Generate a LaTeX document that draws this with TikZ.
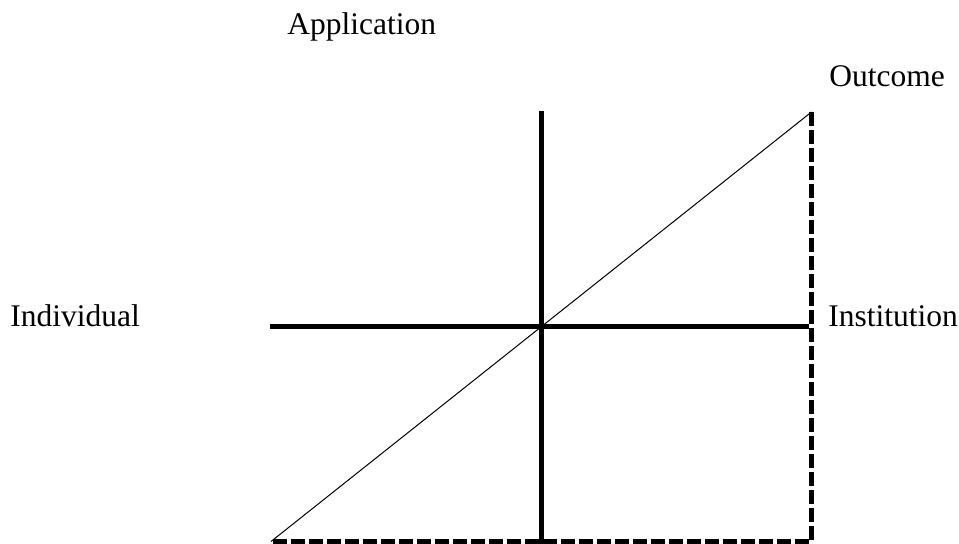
\documentclass[tikz,border=0pt]{standalone}
\usepackage{fontspec}
\setmainfont{Liberation Serif}
\usetikzlibrary{positioning}

\begin{document}
\begin{tikzpicture}[x=0.5pt,y=-0.5pt,line join=miter,
    axis/.style={line width=2.8pt},
    border/.style={line width=2.6pt,dash pattern=on 7pt off 2pt},
    label/.style={inner sep=0pt,anchor=base west,
      font=\fontsize{15.75}{18}\selectfont}]
    \useasboundingbox (0,0) rectangle (959,544);
    % Corners and axis ends.
    \coordinate (O) at (541.5,326.5);
    \coordinate (top) at (541.5,111);
    \coordinate (bot) at (541.5,544);
    \coordinate (lft) at (270,326.5);
    \coordinate (rgt) at (809,326.5);
    \coordinate (LL) at (271,541.5);
    \coordinate (LR) at (811.5,541.5);
    \coordinate (UR) at (811.5,112);

    % Dashed frame and diagonal.
    \draw[border] (UR) -- (LR) -- (LL);
    \draw[line width=.5pt] (LL) -- (UR);

    % Axes.
    \draw[axis] (top) -- (bot);
    \draw[axis] (lft) -- (rgt);

    % Labels.
    \node[label] (app) at (287,35) {Application};
    \node[label] (out) at (829,87) {Outcome};
    \node[label] (ind) at (10,327) {Individual};
    \node[label] (ins) at (828,327) {Institution};
\end{tikzpicture}
\end{document}
